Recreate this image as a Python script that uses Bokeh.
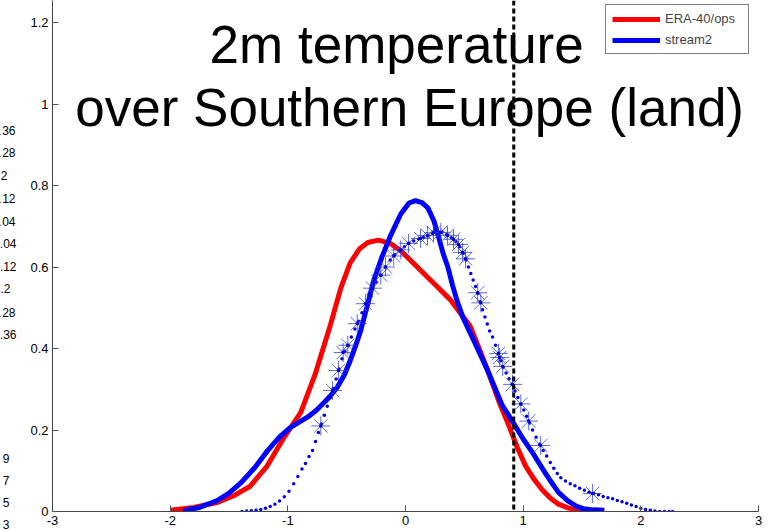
from bokeh.plotting import figure
from bokeh.layouts import row
from bokeh.models import (Range1d, FixedTicker, CustomJSTickFormatter, Span, Label,
                          Legend, LegendItem)
from bokeh.core.properties import value
from bokeh.embed import file_html
from bokeh.resources import INLINE

# ---------------- data ----------------
red_x = [-2.0, -1.8, -1.6, -1.45, -1.32, -1.18, -1.04, -0.89, -0.77, -0.64, -0.55, -0.47,
         -0.39, -0.32, -0.23, -0.13, -0.04, 0.10, 0.24, 0.38, 0.47, 0.55, 0.64, 0.70, 0.80,
         0.87, 0.95, 1.02, 1.09, 1.16, 1.23, 1.30, 1.38, 1.45, 1.51]
red_y = [0.003, 0.01, 0.022, 0.04, 0.062, 0.11, 0.178, 0.243, 0.335, 0.456, 0.548, 0.61,
         0.645, 0.66, 0.666, 0.658, 0.64, 0.60, 0.56, 0.52, 0.485, 0.455, 0.39, 0.345, 0.265,
         0.217, 0.157, 0.112, 0.08, 0.054, 0.033, 0.018, 0.009, 0.004, 0.002]

blue_x = [-1.89, -1.75, -1.6, -1.5, -1.40, -1.28, -1.17, -1.07, -0.98, -0.90, -0.83, -0.76,
          -0.70, -0.64, -0.58, -0.52, -0.47, -0.42, -0.38, -0.32, -0.27, -0.20, -0.13, -0.04,
          0.03, 0.085, 0.14, 0.19, 0.24, 0.28, 0.32, 0.36, 0.40, 0.44, 0.49, 0.58, 0.70, 0.82,
          0.92, 1.00, 1.09, 1.16, 1.23, 1.30, 1.38, 1.45, 1.51, 1.60, 1.69]
blue_y = [0.002, 0.01, 0.027, 0.045, 0.07, 0.108, 0.15, 0.183, 0.206, 0.22, 0.232, 0.248,
          0.265, 0.283, 0.305, 0.335, 0.37, 0.41, 0.445, 0.51, 0.567, 0.625, 0.675, 0.73,
          0.757, 0.763, 0.758, 0.745, 0.714, 0.675, 0.633, 0.60, 0.555, 0.515, 0.475, 0.42,
          0.345, 0.262, 0.216, 0.178, 0.14, 0.107, 0.076, 0.047, 0.026, 0.013, 0.007, 0.004, 0.003]

dot_x = [-1.39, -1.35, -1.31, -1.27, -1.23, -1.19, -1.15, -1.11, -1.07, -1.03, -0.99, -0.95,
         -0.915, -0.88, -0.85, -0.82, -0.79, -0.765, -0.74, -0.715, -0.69, -0.665, -0.64,
         -0.615, -0.59, -0.565, -0.54, -0.515, -0.49, -0.46, -0.43, -0.40, -0.37, -0.34,
         -0.31, -0.28, -0.25, -0.21, -0.17, -0.13, -0.09, -0.05, -0.01, 0.03, 0.07, 0.11,
         0.15, 0.19, 0.23, 0.27, 0.31, 0.35, 0.39, 0.43, 0.46, 0.49, 0.515, 0.535, 0.555,
         0.575, 0.595, 0.615, 0.635, 0.655, 0.675, 0.695, 0.715, 0.74, 0.765, 0.79, 0.81,
         0.83, 0.855, 0.88, 0.905, 0.93, 0.955, 0.98, 1.005, 1.03, 1.055, 1.08, 1.11, 1.14,
         1.17, 1.20, 1.23, 1.26, 1.29, 1.32, 1.36, 1.40, 1.44, 1.48, 1.52, 1.56, 1.60, 1.64,
         1.68, 1.72, 1.76, 1.80, 1.84, 1.88, 1.92, 1.96, 2.00, 2.04, 2.08, 2.12, 2.16, 2.20,
         2.24, 2.27]
dot_y = [0.0, 0.001, 0.002, 0.003, 0.005, 0.008, 0.012, 0.018, 0.026, 0.036, 0.05, 0.068,
         0.086, 0.104, 0.118, 0.135, 0.15, 0.172, 0.194, 0.215, 0.236, 0.258, 0.28, 0.302,
         0.325, 0.35, 0.375, 0.393, 0.408, 0.428, 0.448, 0.467, 0.488, 0.51, 0.53, 0.548,
         0.563, 0.58, 0.60, 0.617, 0.63, 0.64, 0.65, 0.658, 0.664, 0.669, 0.673, 0.678,
         0.683, 0.686, 0.685, 0.679, 0.672, 0.662, 0.65, 0.634, 0.617, 0.60, 0.584, 0.568,
         0.552, 0.535, 0.515, 0.495, 0.477, 0.46, 0.443, 0.428, 0.408, 0.388, 0.37, 0.354,
         0.34, 0.326, 0.312, 0.296, 0.28, 0.264, 0.249, 0.234, 0.217, 0.2, 0.182, 0.165,
         0.15, 0.136, 0.12, 0.106, 0.093, 0.083, 0.075, 0.068, 0.063, 0.057, 0.052, 0.047,
         0.044, 0.041, 0.037, 0.034, 0.031, 0.027, 0.024, 0.02, 0.016, 0.012, 0.008, 0.005,
         0.003, 0.001, 0.0, 0.0, 0.0, 0.0]

star_x = [-0.72, -0.62, -0.57, -0.53, -0.49, -0.41, -0.34, -0.28, -0.21, -0.17, -0.10, -0.04,
          0.026, 0.128, 0.187, 0.238, 0.30, 0.357, 0.408, 0.45, 0.485, 0.51, 0.613, 0.64,
          0.79, 0.80, 0.826, 0.91, 0.98, 1.047, 1.149, 1.59]
star_y = [0.21, 0.297, 0.346, 0.39, 0.408, 0.461, 0.51, 0.548, 0.58, 0.60, 0.627, 0.642,
          0.658, 0.67, 0.677, 0.684, 0.685, 0.678, 0.668, 0.655, 0.636, 0.62, 0.537, 0.512,
          0.388, 0.378, 0.356, 0.312, 0.264, 0.222, 0.162, 0.044]

threshold_x = 0.92

x_ticks = [-3, -2, -1, 0, 1, 2, 3]
y_ticks = [0, 0.2, 0.4, 0.6, 0.8, 1.0, 1.2]

series_labels = ["ERA-40/ops", "stream2"]
title_lines = ["2m temperature", "over Southern Europe (land)"]

# cut-off tick labels of a neighbouring panel, visible at the left edge
frag_texts = [".36", ".28", "2", ".12", ".04", ".04", ".12", ".2", ".28", ".36", "9", "7", "5", "3"]
frag_y_px = [130, 152, 175, 198, 221, 243, 266, 288, 312, 334, 458, 480, 502, 524]
frag_right_px = [15, 15, 7, 15, 15, 16, 16, 10, 15, 16, 9, 9, 9, 9]

FONT = "Liberation Sans"
W, H = 771, 531
STRIP = 20                      # narrow strip at the far left with the cut-off labels
LEFT, RIGHT, TOP, BOTTOM = 52 - STRIP, 13, 0, 20
MAIN_W = W - STRIP
Y_MAX = 1.254

# ---- left strip ----
s = figure(width=STRIP, height=H, output_backend="svg", toolbar_location=None,
           x_range=Range1d(0, STRIP), y_range=Range1d(H, 0),
           min_border=0, min_border_left=0, min_border_right=0, min_border_top=0,
           min_border_bottom=0, x_axis_location=None, y_axis_location=None)
s.frame_align = False
s.outline_line_color = None
s.xgrid.visible = False
s.ygrid.visible = False
s.text(x=frag_right_px, y=frag_y_px, text=frag_texts, text_align="right",
       text_baseline="middle", text_font=value(FONT), text_font_size="12px",
       text_color="black")

# ---- main plot ----
p = figure(width=MAIN_W, height=H, output_backend="svg", toolbar_location=None,
           x_range=Range1d(-3, 3), y_range=Range1d(0, Y_MAX),
           min_border_left=LEFT, min_border_right=RIGHT, min_border_top=TOP,
           min_border_bottom=BOTTOM)
p.frame_align = False
p.outline_line_color = None
p.xgrid.visible = False
p.ygrid.visible = False
p.background_fill_color = "white"
p.border_fill_color = "white"

fmt = CustomJSTickFormatter(code="var s = (Math.round(tick*10)/10).toString(); return s;")
for ax, ticks in ((p.xaxis, x_ticks), (p.yaxis, y_ticks)):
    ax.ticker = FixedTicker(ticks=ticks)
    ax.formatter = fmt
    ax.minor_tick_line_color = None
    ax.major_tick_in = 6
    ax.major_tick_out = 0
    ax.major_tick_line_color = "#555555"
    ax.axis_line_color = "#444444"
    ax.major_label_text_font = FONT
    ax.major_label_text_font_size = "13px"
    ax.major_label_text_color = "black"
p.yaxis.major_label_standoff = 4
p.xaxis.major_label_standoff = 4

r_red = p.line(red_x, red_y, line_color="#ff0000", line_width=5)
r_blue = p.line(blue_x, blue_y, line_color="#0000ff", line_width=5)
p.scatter(dot_x, dot_y, marker="circle", size=3.5, fill_color="#0000ee", line_color=None)
p.scatter(star_x, star_y, marker="asterisk", size=19, line_color="#2b3bd6",
          line_alpha=0.75, line_width=1)
p.scatter(star_x, star_y, marker="circle", size=3.5, fill_color="#0000cc", line_color=None)

p.add_layout(Span(location=threshold_x, dimension="height", line_color="black",
                  line_width=3, line_dash="5 3"))

p.add_layout(Label(x=-0.075, y=1.147, text=title_lines[0], text_font=FONT,
                   text_font_size="53px", text_align="center", text_baseline="alphabetic",
                   text_color="black"))
p.add_layout(Label(x=0.035, y=0.992, text=title_lines[1], text_font=FONT,
                   text_font_size="53px", text_align="center", text_baseline="alphabetic",
                   text_color="black"))

legend = Legend(items=[LegendItem(label=series_labels[0], renderers=[r_red]),
                       LegendItem(label=series_labels[1], renderers=[r_blue])],
                location=(553, 511 - 8 - 46), orientation="vertical",
                glyph_width=48, glyph_height=14, label_height=14, label_width=77,
                spacing=6, padding=6, margin=0, label_standoff=5,
                label_text_font=FONT, label_text_font_size="13px",
                border_line_color="black", border_line_width=1,
                background_fill_color="white", background_fill_alpha=1.0)
p.add_layout(legend)

layout = row(s, p, spacing=0)
open("out.html", "w").write(file_html(layout, INLINE))
